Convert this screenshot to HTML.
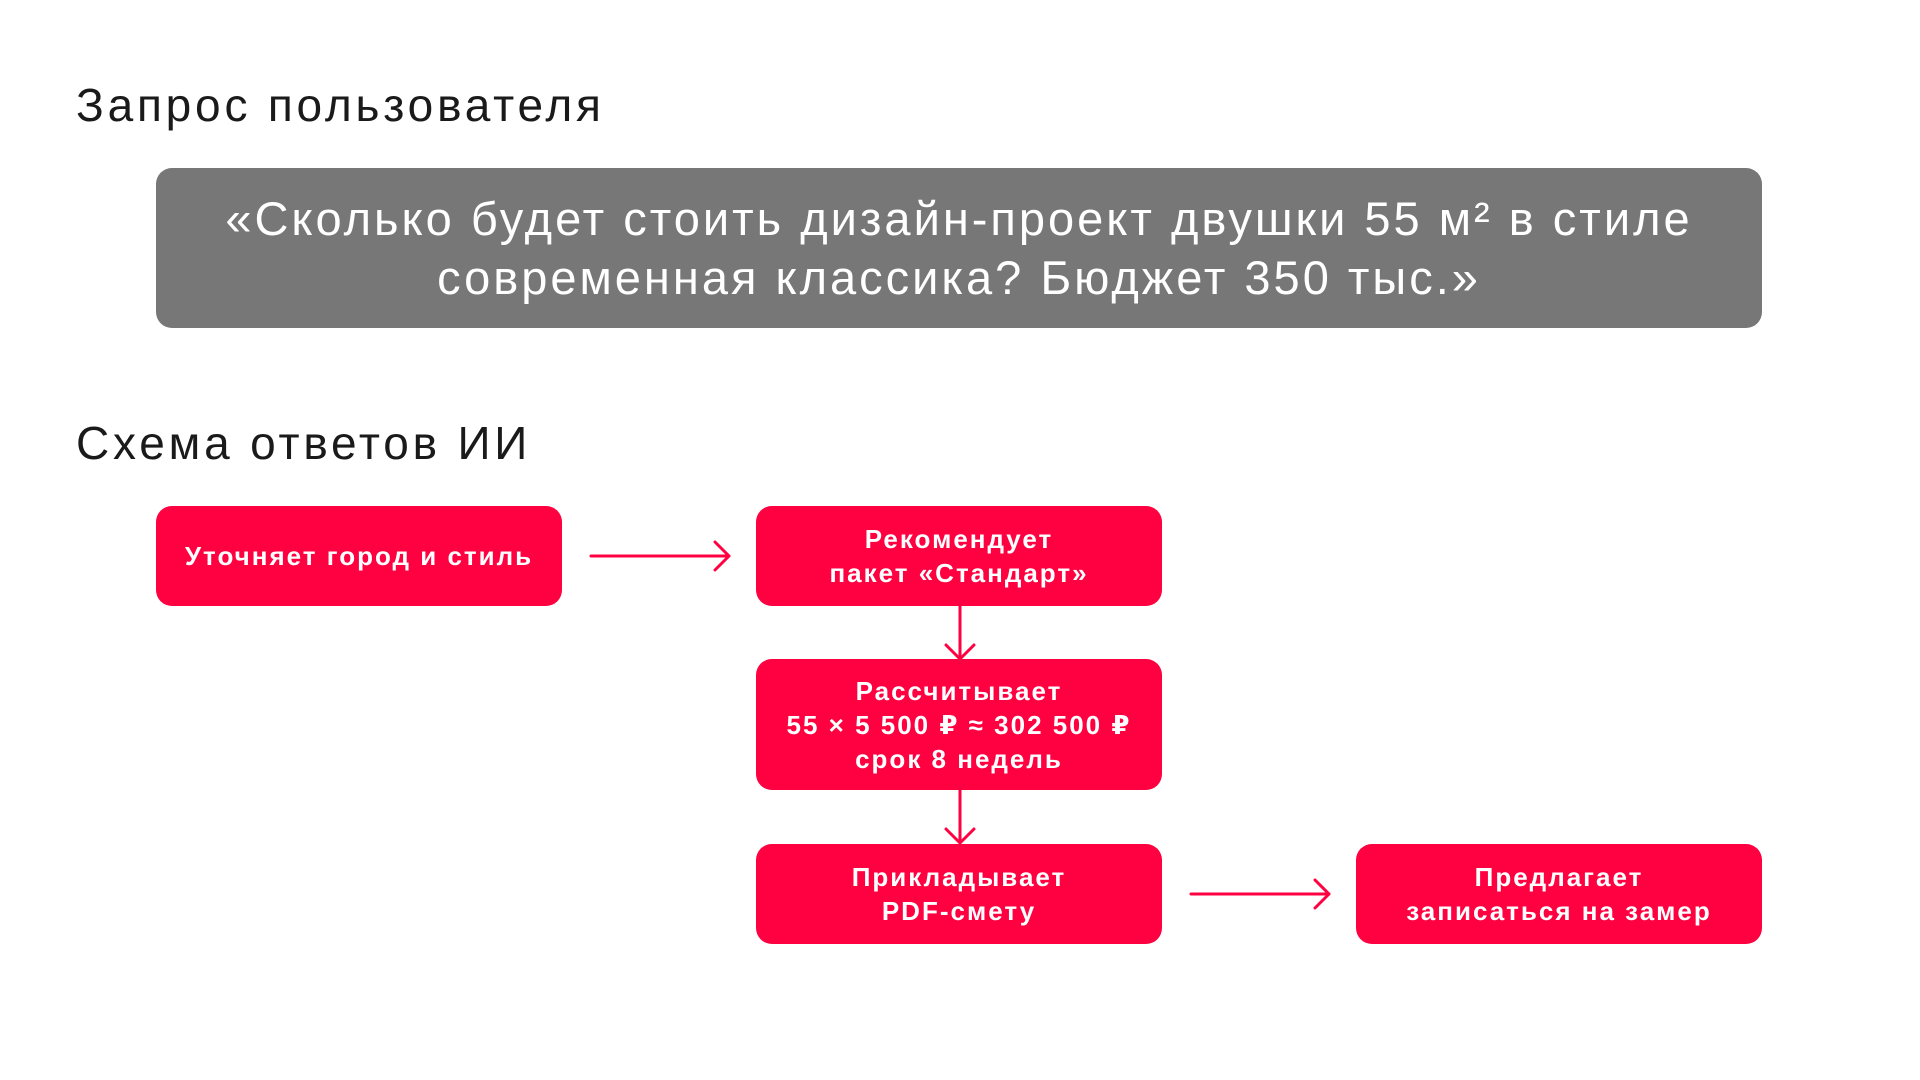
<!DOCTYPE html>
<html><head><meta charset="utf-8"><style>
body{margin:0;width:1920px;height:1080px;background:#fff;position:relative;overflow:hidden;font-family:"Liberation Sans","DejaVu Sans",sans-serif}
.h{position:absolute;left:76px;font-size:46px;color:#1a1a1a;line-height:1;letter-spacing:3.8px}
.q{position:absolute;left:156px;top:168px;width:1606px;height:160px;background:#777;border-radius:16px;color:#fff;font-size:47px;line-height:59px;text-align:center;display:flex;align-items:center;justify-content:center;letter-spacing:3px}
.b{position:absolute;width:406px;background:#ff0040;border-radius:16px;color:#fff;font-weight:bold;font-size:26px;line-height:34px;text-align:center;display:flex;align-items:center;justify-content:center;letter-spacing:2px}
svg{position:absolute;left:0;top:0}
</style></head><body>
<div class="h" style="top:82px">Запрос пользователя</div>
<div class="q"><div>«Сколько будет стоить дизайн‑проект двушки 55 м² в стиле<br>современная классика? Бюджет 350 тыс.»</div></div>
<div class="h" style="top:420px">Схема ответов ИИ</div>
<div class="b" style="left:156px;top:506px;height:100px">Уточняет город и стиль</div>
<div class="b" style="left:756px;top:506px;height:100px">Рекомендует<br>пакет «Стандарт»</div>
<div class="b" style="left:756px;top:659px;height:131px">Рассчитывает<br>55 × 5 500 ₽ ≈ 302 500 ₽<br>срок 8 недель</div>
<div class="b" style="left:756px;top:844px;height:100px">Прикладывает<br>PDF‑смету</div>
<div class="b" style="left:1356px;top:844px;height:100px">Предлагает<br>записаться на замер</div>
<svg width="1920" height="1080" fill="none" stroke="#ff0040" stroke-width="3" stroke-linecap="round" stroke-linejoin="round">
<path d="M591 556H729M715 542L729 556L715 570"/>
<path d="M960 606V659M946 645L960 659L974 645"/>
<path d="M960 790V843M946 829L960 843L974 829"/>
<path d="M1191 894H1329M1315 880L1329 894L1315 908"/>
</svg>
</body></html>
